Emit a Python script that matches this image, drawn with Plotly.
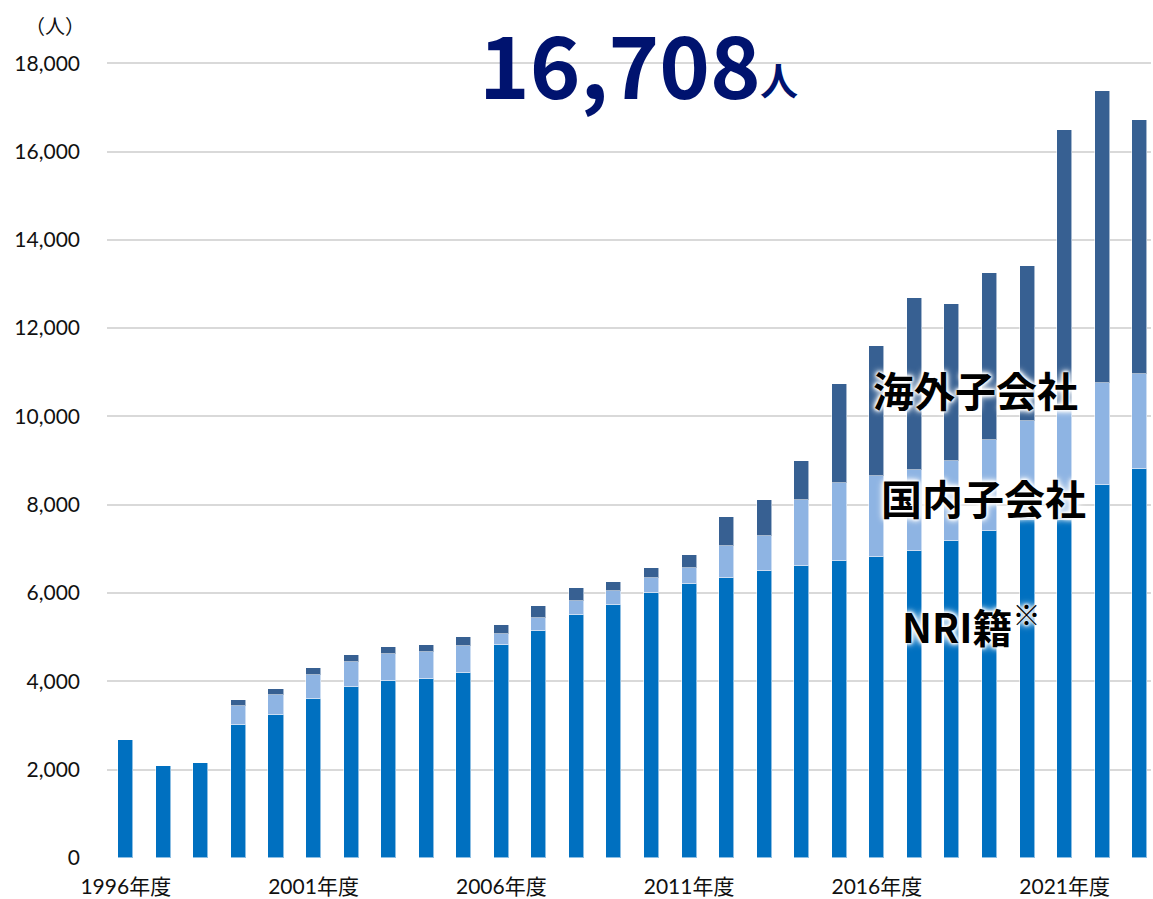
import plotly.graph_objects as go

years = list(range(1996, 2024))
nri = [2670, 2076, 2150, 3018, 3245, 3607, 3879, 4007, 4045, 4188,
       4830, 5147, 5509, 5735, 5993, 6196, 6345, 6498, 6619, 6724,
       6822, 6958, 7177, 7403, 7650, 7652, 8452, 8814]
domestic = [0, 0, 0, 423, 453, 536, 551, 604, 626, 619,
            234, 294, 302, 310, 339, 363, 718, 799, 1479, 1773,
            1834, 1826, 1811, 2060, 2237, 2598, 2308, 2144]
overseas = [0, 0, 0, 136, 128, 159, 166, 159, 151, 190,
            219, 264, 294, 204, 241, 301, 650, 801, 890, 2234,
            2936, 3902, 3569, 3795, 3523, 6239, 6613, 5750]
tick_years = [1996, 2001, 2006, 2011, 2016, 2021]
tick_text = [f"{y}年度" for y in tick_years]
y_ticks = list(range(0, 18001, 2000))
total_label = "16,708"

W, H = 1153, 899
L, R, T, B = 107, 2, 61, 41
pw, ph = W - L - R, H - T - B


def px(x):
    return (x - L) / pw


def py(y):
    return (H - B - y) / ph


fig = go.Figure()
colors = ["#0070C0", "#8EB4E3", "#376092"]
names = ["NRI籍", "国内子会社", "海外子会社"]
for vals, c, n in zip([nri, domestic, overseas], colors, names):
    fig.add_trace(go.Bar(
        x=years, y=vals, name=n, width=0.4,
        marker=dict(color=c, line=dict(color="rgba(255,255,255,0.55)", width=1)),
        showlegend=False,
    ))

tick_font = dict(family="Lato, 'Noto Sans CJK JP', sans-serif", size=21, color="#111111")
fig.update_layout(
    width=W, height=H, barmode="stack", bargap=0,
    margin=dict(l=L, r=R, t=T, b=B, autoexpand=False),
    plot_bgcolor="white", paper_bgcolor="white",
    xaxis=dict(range=[1995.5, 2023.3], tickvals=tick_years, ticktext=tick_text,
               showgrid=False, zeroline=False, showline=False, ticks="",
               tickfont=tick_font, ticklabelstandoff=14),
    yaxis=dict(range=[0, 18050], tickvals=y_ticks,
               ticktext=[f"{v:,}" for v in y_ticks],
               showgrid=True, gridcolor="#D9D9D9", gridwidth=2,
               zeroline=False, showline=False, ticks="",
               tickfont=tick_font, ticklabelstandoff=26),
)

# white gap in top gridline behind the big number
fig.add_shape(type="rect", xref="paper", yref="paper",
              x0=px(364), x1=px(920), y0=py(58), y1=py(68),
              fillcolor="white", line=dict(width=0), layer="below")

glow = "white 0 0 3px, white 0 0 3px, white 0 0 5px, white 0 0 6px, white 0 0 8px"
cjk_bold = "'Noto Sans CJK JP', sans-serif"

anns = [
    dict(text="（人）", x=px(55), y=py(25), font=dict(family=cjk_bold, size=20, color="#111111")),
    dict(text=total_label, x=px(620), y=py(62),
         font=dict(family=cjk_bold, size=86, color="#00136F", weight="bold")),
    dict(text="人", x=px(779), y=py(79),
         font=dict(family=cjk_bold, size=38, color="#00136F", weight="bold")),
    dict(text="海外子会社", x=px(975), y=py(389),
         font=dict(family=cjk_bold, size=41, color="#000000", weight="bold", shadow=glow)),
    dict(text="国内子会社", x=px(983), y=py(497),
         font=dict(family=cjk_bold, size=41, color="#000000", weight="bold", shadow=glow)),
    dict(text="NRI籍<sup>※</sup>", x=px(971), y=py(624),
         font=dict(family=cjk_bold, size=40, color="#000000", weight="bold", shadow=glow)),
]
for a in anns:
    fig.add_annotation(xref="paper", yref="paper", showarrow=False,
                       xanchor="center", yanchor="middle", **a)

fig.write_html("out.html", config={"displayModeBar": False})

with open("out.html", encoding="utf-8") as f:
    html = f.read()
html = html.replace("<head>", "<head><style>html,body{margin:0;padding:0;overflow:hidden;}</style>", 1)
with open("out.html", "w", encoding="utf-8") as f:
    f.write(html)
